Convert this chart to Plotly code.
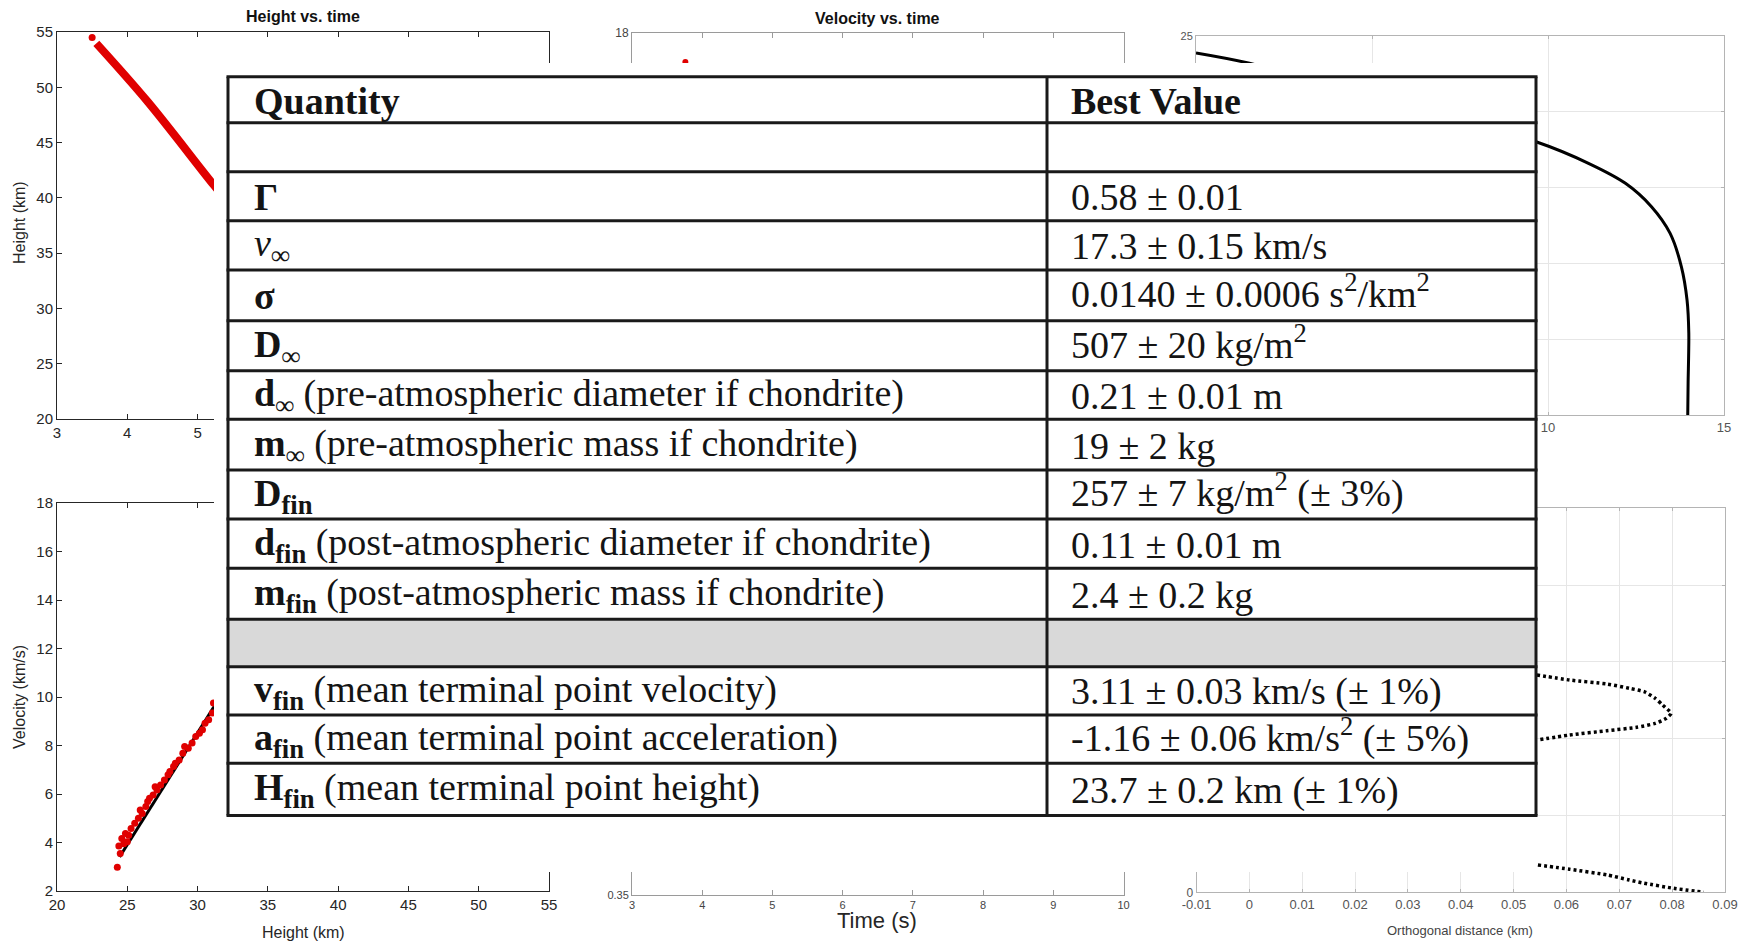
import plotly.graph_objects as go

W, H = 1744, 942

# ---------------- data ----------------
# Height vs. time (top left)
ht_time_s = [3.56, 4.29, 5.23, 5.50]
ht_height_km = [53.97, 48.70, 41.16, 39.10]
ht_first_time_s = [3.50]
ht_first_height_km = [54.50]

# Velocity vs. height (bottom left)
vh_fit_height_km = [24.45, 31.60]
vh_fit_velocity = [3.40, 10.00]
vh_obs_height_km = [24.29, 24.40, 24.61, 25.00, 24.87, 25.27, 25.53, 25.79, 26.06, 25.92,
                    26.32, 26.45, 26.58, 26.84, 26.98, 27.11, 27.37, 27.64, 27.90, 28.03,
                    28.29, 28.42, 28.69, 28.95, 29.08, 29.34, 29.61, 29.87, 30.13, 30.35,
                    30.53, 30.79, 31.05, 31.13, 24.50, 24.75, 25.10]
vh_obs_velocity = [2.98, 3.86, 4.17, 4.03, 4.37, 4.58, 4.79, 5.00, 5.20, 5.34,
                   5.48, 5.69, 5.82, 5.96, 6.30, 6.17, 6.37, 6.58, 6.79, 6.93,
                   7.13, 7.27, 7.40, 7.68, 7.96, 7.89, 8.10, 8.37, 8.51, 8.65,
                   8.92, 9.06, 9.34, 9.75, 3.55, 3.95, 4.30]

# Velocity vs. time (top middle) - only one point visible
vt_time_s = [3.76]
vt_velocity = [16.8]

# Top-right curve
tr_x = [0.0, 1.52, 9.66, 11.15, 12.20, 12.94, 13.47, 13.79, 13.95, 14.00, 13.98, 13.97]
tr_y = [23.86, 23.18, 18.01, 16.59, 15.27, 13.73, 11.97, 9.77, 7.58, 5.38, 2.09, 0.0]

# Orthogonal distance (bottom right)
od_upper_km = [0.0544, 0.0606, 0.0677, 0.0719, 0.0747, 0.0768, 0.0782, 0.0798,
               0.0789, 0.0768, 0.0733, 0.0677, 0.0606, 0.0546]
od_upper_h = [14.15, 13.82, 13.56, 13.28, 13.06, 12.63, 12.19, 11.65,
              11.33, 11.00, 10.74, 10.52, 10.24, 9.92]
od_lower_km = [0.0546, 0.0606, 0.0677, 0.0719, 0.0747, 0.0803, 0.0860]
od_lower_h = [1.78, 1.50, 1.13, 0.80, 0.59, 0.26, 0.0]
od_tickvals = [-0.01, 0, 0.01, 0.02, 0.03, 0.04, 0.05, 0.06, 0.07, 0.08, 0.09]
od_ticktext = ["-0.01", "0", "0.01", "0.02", "0.03", "0.04", "0.05", "0.06", "0.07", "0.08", "0.09"]

# Table
quantity_labels = [
    "<b>Quantity</b>",
    "",
    "<b>Γ</b>",
    "<i>v</i><b><sub>∞</sub></b>",
    "<b>σ</b>",
    "<b>D<sub>∞</sub></b>",
    "<b>d<sub>∞</sub></b> (pre-atmospheric diameter if chondrite)",
    "<b>m<sub>∞</sub></b> (pre-atmospheric mass if chondrite)",
    "<b>D<sub>fin</sub></b>",
    "<b>d<sub>fin</sub></b> (post-atmospheric diameter if chondrite)",
    "<b>m<sub>fin</sub></b> (post-atmospheric mass if chondrite)",
    "",
    "<b>v<sub>fin</sub></b> (mean terminal point velocity)",
    "<b>a<sub>fin</sub></b> (mean terminal point acceleration)",
    "<b>H<sub>fin</sub></b> (mean terminal point height)",
]
best_values = [
    "<b>Best Value</b>",
    "",
    "0.58 ± 0.01",
    "17.3 ± 0.15 km/s",
    "0.0140 ± 0.0006 s<sup>2</sup>/km<sup>2</sup>",
    "507 ± 20 kg/m<sup>2</sup>",
    "0.21 ± 0.01 m",
    "19 ± 2 kg",
    "257 ± 7 kg/m<sup>2</sup> (± 3%)",
    "0.11 ± 0.01 m",
    "2.4 ± 0.2 kg",
    "",
    "3.11 ± 0.03 km/s (± 1%)",
    "-1.16 ± 0.06 km/s<sup>2</sup> (± 5%)",
    "23.7 ± 0.2 km (± 1%)",
]
shaded_row = 11

# ---------------- layout helpers ----------------
def px(x):
    return x / W

def py(y):
    return 1 - y / H

row_edges = [76.7, 122.7, 171.7, 220.7, 270.0, 320.7, 370.7, 419.3, 470.0,
             519.0, 568.3, 619.3, 666.7, 715.0, 763.3, 815.5]
tab_left, tab_mid, tab_right = 228, 1047, 1536

SANS = "Liberation Sans, Arial, sans-serif"
NARROW = "Liberation Sans Narrow, Arial Narrow, Liberation Sans, sans-serif"
SERIF = "Liberation Serif, Times New Roman, serif"


def axis(dom, rng, color, fsize, fcolor, family=SANS, grid=False, **kw):
    d = dict(domain=dom, range=rng, showline=True, linecolor=color, linewidth=1,
             mirror="ticks", ticks="inside", ticklen=5, tickcolor=color,
             showgrid=grid, gridcolor="#e6e6e6", zeroline=False,
             tickfont=dict(family=family, size=fsize, color=fcolor))
    d.update(kw)
    return d


fig = go.Figure()

# top-left
fig.add_trace(go.Scatter(x=ht_time_s, y=ht_height_km, mode="lines",
                         line=dict(color="#e00000", width=8, shape="spline"), xaxis="x", yaxis="y"))
fig.add_trace(go.Scatter(x=ht_first_time_s, y=ht_first_height_km, mode="markers",
                         marker=dict(color="#e00000", size=7), xaxis="x", yaxis="y"))
# bottom-left
fig.add_trace(go.Scatter(x=vh_fit_height_km, y=vh_fit_velocity, mode="lines",
                         line=dict(color="black", width=3), xaxis="x2", yaxis="y2"))
fig.add_trace(go.Scatter(x=vh_obs_height_km, y=vh_obs_velocity, mode="markers",
                         marker=dict(color="#e00000", size=7), xaxis="x2", yaxis="y2"))
# top-middle
fig.add_trace(go.Scatter(x=vt_time_s, y=vt_velocity, mode="markers",
                         marker=dict(color="#e00000", size=6), xaxis="x3", yaxis="y3"))
# bottom-middle (axes only)
fig.add_trace(go.Scatter(x=[None], y=[None], mode="markers", xaxis="x4", yaxis="y4"))
# top-right
fig.add_trace(go.Scatter(x=tr_x, y=tr_y, mode="lines",
                         line=dict(color="black", width=3, shape="spline", smoothing=0.8),
                         xaxis="x5", yaxis="y5"))
# bottom-right
fig.add_trace(go.Scatter(x=od_upper_km, y=od_upper_h, mode="lines",
                         line=dict(color="black", width=3.5, dash="3px,3px", shape="spline", smoothing=0.6),
                         xaxis="x6", yaxis="y6"))
fig.add_trace(go.Scatter(x=od_lower_km, y=od_lower_h, mode="lines",
                         line=dict(color="black", width=3.5, dash="3px,3px", shape="spline", smoothing=0.6),
                         xaxis="x6", yaxis="y6"))

dark, grey, light = "#262626", "#9a9a9a", "#b4b4b4"

fig.update_layout(
    width=W, height=H, autosize=False, showlegend=False,
    margin=dict(l=0, r=0, t=0, b=0, pad=0, autoexpand=False),
    paper_bgcolor="white", plot_bgcolor="white",
    xaxis=axis([px(57), px(549)], [3, 10], dark, 15, dark, anchor="y", dtick=1),
    yaxis=axis([py(419), py(32)], [20, 55], dark, 15, dark, anchor="x", dtick=5),
    xaxis2=axis([px(57), px(549)], [20, 55], dark, 15, dark, anchor="y2", dtick=5),
    yaxis2=axis([py(891), py(503)], [2, 18], dark, 15, dark, anchor="x2", dtick=2),
    xaxis3=axis([px(632), px(1123.5)], [3, 10], grey, 11, "#444", anchor="y3", dtick=1),
    yaxis3=axis([py(419), py(33)], [2, 18], grey, 12, "#444", anchor="x3", dtick=2),
    xaxis4=axis([px(632), px(1123.5)], [3, 10], grey, 11, "#444", anchor="y4", dtick=1),
    yaxis4=axis([py(895), py(503)], [0.35, 0.75], grey, 11, "#444", anchor="x4", dtick=0.05),
    xaxis5=axis([px(1196), px(1724)], [0, 15], light, 13, "#555", family=NARROW, grid=True,
                anchor="y5", dtick=5, ticklen=3),
    yaxis5=axis([py(415), py(35.7)], [0, 25], light, 11, "#555", family=NARROW, grid=True,
                anchor="x5", dtick=5, ticklen=3),
    xaxis6=axis([px(1196.5), px(1725)], [-0.01, 0.09], light, 13, "#555", family=NARROW, grid=True,
                anchor="y6", tickvals=od_tickvals, ticktext=od_ticktext, ticklen=3),
    yaxis6=axis([py(892.3), py(508.3)], [0, 25], light, 12, "#555", family=NARROW, grid=True,
                anchor="x6", dtick=5, ticklen=3),
)

annotations = [
    dict(text="<b>Height vs. time</b>", x=px(303), y=py(17), font=dict(family=SANS, size=16, color="#111")),
    dict(text="<b>Velocity vs. time</b>", x=px(877), y=py(19), font=dict(family=SANS, size=16, color="#111")),
    dict(text="Height (km)", x=px(19), y=py(223), textangle=-90, font=dict(family=SANS, size=16, color=dark)),
    dict(text="Velocity (km/s)", x=px(19), y=py(697), textangle=-90, font=dict(family=SANS, size=16, color=dark)),
    dict(text="Height (km)", x=px(303), y=py(932), font=dict(family=SANS, size=16, color=dark)),
    dict(text="Time (s)", x=px(877), y=py(920), font=dict(family=SANS, size=22, color=dark)),
    dict(text="Orthogonal distance (km)", x=px(1460), y=py(930), font=dict(family=NARROW, size=13, color="#444")),
]
for a in annotations:
    a.update(xref="paper", yref="paper", showarrow=False, xanchor="center", yanchor="middle")

shapes = [
    dict(type="rect", x0=px(214), x1=px(1537), y0=py(872), y1=py(63),
         fillcolor="white", line=dict(width=0)),
    dict(type="rect", x0=px(tab_left), x1=px(tab_right), y0=py(row_edges[shaded_row + 1]),
         y1=py(row_edges[shaded_row]), fillcolor="#d9d9d9", line=dict(width=0)),
]
for ye in row_edges:
    shapes.append(dict(type="line", x0=px(tab_left - 1.5), x1=px(tab_right + 1.5), y0=py(ye), y1=py(ye),
                       line=dict(color="#1a1a1a", width=3)))
for xe in (tab_left, tab_mid, tab_right):
    shapes.append(dict(type="line", x0=px(xe), x1=px(xe), y0=py(row_edges[0]), y1=py(row_edges[-1]),
                       line=dict(color="#1a1a1a", width=3)))
for s in shapes:
    s.update(xref="paper", yref="paper", layer="above")

for i, (q, v) in enumerate(zip(quantity_labels, best_values)):
    yc = (row_edges[i] + row_edges[i + 1]) / 2 + 1
    for txt, x0 in ((q, 252), (v, 1069)):
        if txt:
            y_adj = yc - 5 if "<sup>" in txt else yc
            annotations.append(dict(text=txt, x=px(x0), y=py(y_adj), xref="paper", yref="paper",
                                    showarrow=False, xanchor="left", yanchor="middle",
                                    font=dict(family=SERIF, size=38, color="#141414")))

fig.update_layout(shapes=shapes, annotations=annotations)

fig.write_html("out.html", config={"displayModeBar": False},
               post_script="document.body.style.margin='0';")
